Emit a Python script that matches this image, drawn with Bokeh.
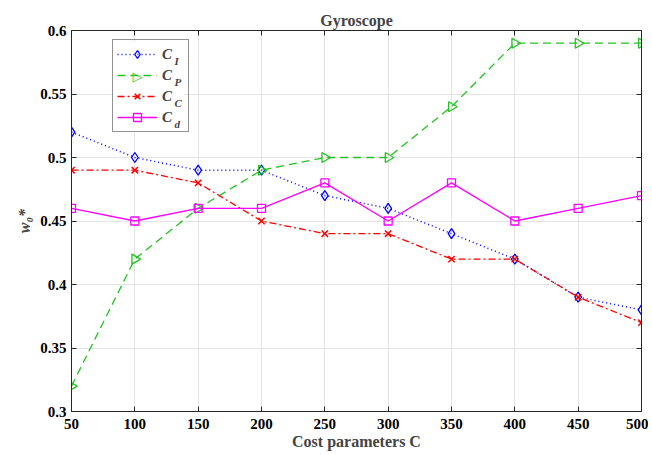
import numpy as np
from bokeh.plotting import figure
from bokeh.models import (Legend, LegendItem, LinearAxis, Range1d, FixedTicker, Label,
                          CustomJSTickFormatter, BoxAnnotation)
from bokeh.embed import file_html
from bokeh.resources import INLINE

cost = [50, 100, 150, 200, 250, 300, 350, 400, 450, 500]
c_i = [0.52, 0.50, 0.49, 0.49, 0.47, 0.46, 0.44, 0.42, 0.39, 0.38]
c_p = [0.32, 0.42, 0.46, 0.49, 0.50, 0.50, 0.54, 0.59, 0.59, 0.59]
c_c = [0.49, 0.49, 0.48, 0.45, 0.44, 0.44, 0.42, 0.42, 0.39, 0.37]
c_d = [0.46, 0.45, 0.46, 0.46, 0.48, 0.45, 0.48, 0.45, 0.46, 0.47]
x_ticks = [50, 100, 150, 200, 250, 300, 350, 400, 450, 500]
y_ticks = [0.3, 0.35, 0.4, 0.45, 0.5, 0.55, 0.6]
y_tick_labels = ["0.3", "0.35", "0.4", "0.45", "0.5", "0.55", "0.6"]
subs = ["I", "P", "C", "d"]

FONT = "Liberation Serif"
AXC = "#262626"

p = figure(width=648, height=453, output_backend="svg", toolbar_location=None,
           x_range=Range1d(50, 500), y_range=Range1d(0.3, 0.6),
           min_border_left=71, min_border_right=7, min_border_top=30, min_border_bottom=42)
p.title.text = "Gyroscope"
p.title.align = "center"
p.title.text_font = FONT
p.title.text_font_size = "16px"
p.title.text_font_style = "bold"
p.title.offset = 0
p.title.standoff = 4

p.outline_line_color = AXC
p.outline_line_width = 1
p.outline_line_alpha = 1

for ax in [p.xaxis[0], p.yaxis[0]]:
    ax.major_label_text_font = FONT
    ax.major_label_text_font_size = "15px"
    ax.major_label_text_font_style = "bold"
    ax.major_label_text_color = "black"
    ax.axis_label_text_font = FONT
    ax.axis_label_text_font_size = "16px"
    ax.axis_label_text_font_style = "bold"
    ax.major_tick_in = 5
    ax.major_tick_out = 0
    ax.minor_tick_line_color = None
    ax.axis_line_color = AXC
    ax.major_tick_line_color = AXC

p.xaxis[0].ticker = FixedTicker(ticks=x_ticks)
p.yaxis[0].ticker = FixedTicker(ticks=y_ticks)
p.yaxis[0].major_label_overrides = {t: l for t, l in zip(y_ticks, y_tick_labels)}
p.xaxis[0].axis_label = "Cost parameters C"
p.yaxis[0].axis_label = "w\u2080*"
p.yaxis[0].axis_label_text_font_style = "bold italic"
p.xaxis[0].major_label_standoff = 7
p.yaxis[0].major_label_standoff = 5
p.xaxis[0].axis_label_standoff = 1
p.yaxis[0].axis_label_standoff = 4

blank = CustomJSTickFormatter(code="return '';")
right = LinearAxis(ticker=FixedTicker(ticks=y_ticks), formatter=blank,
                   major_tick_in=5, major_tick_out=0, minor_tick_line_color=None,
                   axis_line_color=AXC, major_tick_line_color=AXC, major_label_standoff=0)
top = LinearAxis(ticker=FixedTicker(ticks=x_ticks), formatter=blank,
                 major_tick_in=5, major_tick_out=0, minor_tick_line_color=None,
                 axis_line_color=AXC, major_tick_line_color=AXC, major_label_standoff=0)
p.add_layout(right, "right")
p.add_layout(top, "above")

p.xgrid.ticker = FixedTicker(ticks=x_ticks)
p.ygrid.ticker = FixedTicker(ticks=y_ticks)
p.grid.grid_line_color = "#e3e3e3"
p.grid.grid_line_alpha = 1

# white backing for the legend box (covers grid lines)
p.add_layout(BoxAnnotation(left=41, right=113, top=370, bottom=279,
                           left_units="screen", right_units="screen",
                           top_units="screen", bottom_units="screen",
                           fill_color="white", fill_alpha=1, line_color=None,
                           level="underlay"))

BLUE = "#0000ff"
GREEN = "#22c322"
RED = "#ff0000"
MAG = "#ff00ff"

l1 = p.line(cost, c_i, line_color=BLUE, line_dash="1 3", line_width=1.5)
m1 = p.scatter(cost, c_i, marker="diamond", size=10, line_color=BLUE, fill_color=None, line_width=1.3)
l2 = p.line(cost, c_p, line_color=GREEN, line_dash="8 5", line_width=1.3)
m2 = p.scatter(cost, c_p, marker="triangle", angle=-np.pi / 2, size=10, line_color=GREEN,
               fill_color=None, line_width=1.3)
l3 = p.line(cost, c_c, line_color=RED, line_dash="7 3 2 3", line_width=1.3)
m3 = p.scatter(cost, c_c, marker="x", size=9, line_color=RED, line_width=1.5)
l4 = p.line(cost, c_d, line_color=MAG, line_width=1.3)
m4 = p.scatter(cost, c_d, marker="square", size=8, line_color=MAG, fill_color=None, line_width=1.3)

legend = Legend(items=[LegendItem(label="C", renderers=[l1, m1]),
                       LegendItem(label="C", renderers=[l2]),
                       LegendItem(label="C", renderers=[l3, m3]),
                       LegendItem(label="C", renderers=[l4, m4])],
                location=(41, 279))
legend.label_text_font = FONT
legend.label_text_font_size = "15px"
legend.label_text_font_style = "bold italic"
legend.glyph_width = 40
legend.glyph_height = 20
legend.spacing = 1
legend.padding = 4
legend.margin = 0
legend.label_standoff = 5
legend.label_width = 22
legend.border_line_color = AXC
legend.border_line_width = 1.2
legend.background_fill_alpha = 0
p.add_layout(legend)

# legend marker for the right-pointing triangle
p.add_layout(Label(x=66, y=335, x_units="screen", y_units="screen", text="\u25b7",
                   text_color=GREEN, text_font="DejaVu Sans", text_font_size="13px",
                   text_align="center", text_baseline="middle", level="overlay"))

for i, s in enumerate(subs):
    p.add_layout(Label(x=103, y=351 - i * 21, x_units="screen", y_units="screen", text=s,
                       text_font=FONT, text_font_size="11px", text_font_style="bold italic",
                       text_baseline="middle", level="overlay"))

open("out.html", "w").write(file_html(p, INLINE))
